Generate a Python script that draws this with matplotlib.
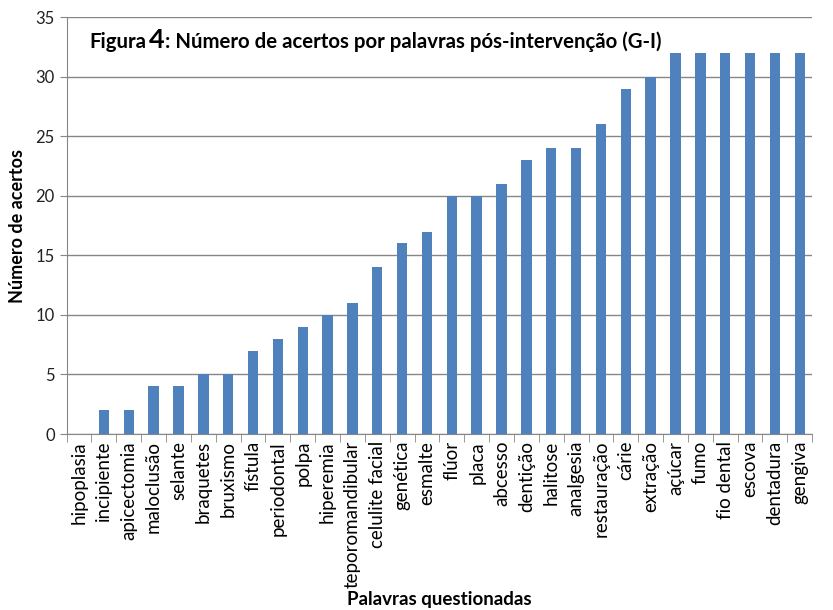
import matplotlib.pyplot as plt

palavras = ["hipoplasia", "incipiente", "apicectomia", "maloclusão", "selante",
            "braquetes", "bruxismo", "fístula", "periodontal", "polpa",
            "hiperemia", "teporomandibular", "celulite facial", "genética",
            "esmalte", "flúor", "placa", "abcesso", "dentição", "halitose",
            "analgesia", "restauração", "cárie", "extração", "açúcar", "fumo",
            "fio dental", "escova", "dentadura", "gengiva"]
acertos = [0, 2, 2, 4, 4, 5, 5, 7, 8, 9, 10, 11, 14, 16, 17, 20, 20, 21, 23,
           24, 24, 26, 29, 30, 32, 32, 32, 32, 32, 32]

plt.rcParams['font.family'] = ['Lato', 'DejaVu Sans']

fig = plt.figure(figsize=(8.33, 6.10), dpi=100)
ax = fig.add_axes([0.080, 0.2885, 0.895, 0.6835])

x = range(len(palavras))
ax.bar(x, acertos, width=0.42, color="#4F81BD", zorder=3)

ax.set_xlim(-0.5, len(palavras) - 0.5)
ax.set_ylim(0, 35)
ax.set_yticks(range(0, 36, 5))
ax.tick_params(axis="y", labelsize=12, length=5, color="#868686", labelcolor="#222222")
ax.set_xticks(list(x))
ax.set_xticklabels(palavras, rotation=90, fontsize=13.5)
ax.tick_params(axis="x", length=0, pad=5)
ax.set_xticks([i - 0.5 for i in range(len(palavras) + 1)], minor=True)
ax.tick_params(axis="x", which="minor", length=6, color="#868686")

ax.grid(axis="y", color="#868686", linewidth=1, zorder=0)
for s in ["top", "right"]:
    ax.spines[s].set_visible(False)
ax.spines["left"].set_color("#868686")
ax.spines["bottom"].set_color("#868686")

ax.set_ylabel("Número de acertos", fontsize=13, fontweight="bold")
ax.yaxis.set_label_coords(-0.055, 0.5)
ax.set_xlabel("Palavras questionadas", fontsize=13.5, fontweight="bold")
ax.xaxis.set_label_coords(0.5, -0.376)

t1 = ax.text(0.03, 0.925, "Figura", transform=ax.transAxes, fontsize=14.7,
             fontweight="bold", va="baseline", ha="left")
t2 = ax.annotate("4", xy=(1, 0), xycoords=t1, xytext=(2, 0),
                 textcoords="offset points", fontsize=19.5, fontweight="bold",
                 va="bottom", ha="left")
ax.annotate(": Número de acertos por palavras pós-intervenção (G-I)", xy=(1, 0),
            xycoords=t2, fontsize=14.7, fontweight="bold", va="bottom", ha="left")

fig.savefig("out.png", dpi=100)
